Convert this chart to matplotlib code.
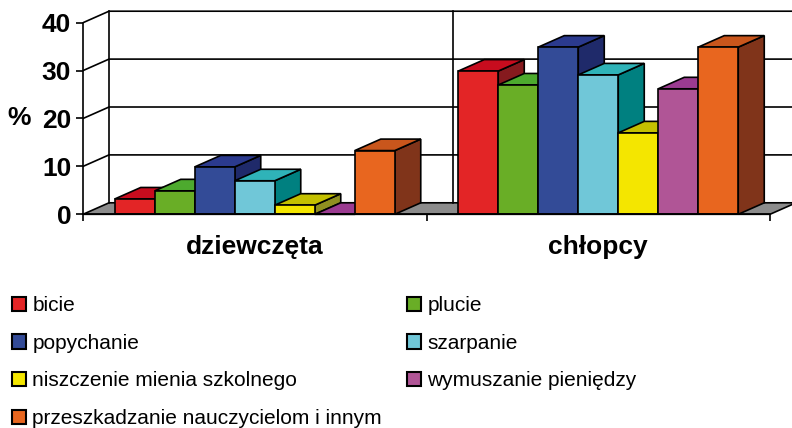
import matplotlib.pyplot as plt
from matplotlib.patches import Patch

plt.rcParams["font.family"] = ["Liberation Sans", "DejaVu Sans"]

groups = ["dziewczęta", "chłopcy"]
series = [
    "bicie",
    "plucie",
    "popychanie",
    "szarpanie",
    "niszczenie mienia szkolnego",
    "wymuszanie pieniędzy",
    "przeszkadzanie nauczycielom i innym",
]
girls = [3.2, 4.9, 9.9, 7.0, 1.9, 0.0, 13.3]
boys = [29.9, 27.0, 34.9, 29.1, 17.0, 26.2, 34.9]
yticks = [0, 10, 20, 30, 40]

# front / top / side shades for each series
front_colors = ["#E32526", "#69AE26", "#334B97", "#70C7D8", "#F4E600", "#B05596", "#E8661F"]
top_colors = ["#C70C1E", "#4DAA2E", "#2B3A8E", "#2FB3B8", "#C4C000", "#9B3B91", "#C9561C"]
side_colors = ["#861A1E", "#3A7A1E", "#1F2A6A", "#008080", "#8F8F20", "#6E2060", "#80341A"]

W, H = 792, 428
fig = plt.figure(figsize=(W / 100, H / 100), dpi=100)

# axes in pixel terms: x=0 at px 83, 343.5 px per category; y=0 at px 214.3, 4.79 px per unit
x0_px, y0_px = 83, 214.3
sx, sy = 343.5, 4.79
ybot = -3.0
ax = fig.add_axes([x0_px / W, 1 - (y0_px - ybot * sy) / H, (W - x0_px) / W, (y0_px - ybot * sy) / H])
ax.set_xlim(0, (W - x0_px) / sx)
ax.set_ylim(ybot, y0_px / sy)

dx, dy = 26 / sx, 2.4
lw = 1.2
ncat = len(groups)

# floor
ax.fill([0, ncat, ncat + dx, dx], [0, 0, dy, dy], facecolor="#8C8C8C", edgecolor="black", lw=lw, zorder=1)

# walls: gridlines on left wall and back wall
for v in yticks[1:]:
    ax.plot([0, dx, ncat + dx + 1], [v, v + dy, v + dy], color="black", lw=lw, zorder=1)
for xv in range(ncat + 1):
    ax.plot([xv + dx, xv + dx], [dy, yticks[-1] + dy], color="black", lw=lw, zorder=1)

nser = len(series)
bw = 40 / sx
gap = (1 - nser * bw) / 2
z = 2
for gi, vals in enumerate([girls, boys]):
    for si, h in enumerate(vals):
        xl = gi + gap + si * bw
        xr = xl + bw
        kw = dict(edgecolor="black", lw=lw, joinstyle="miter")
        ax.fill([xr, xr + dx, xr + dx, xr], [0, dy, h + dy, h], facecolor=side_colors[si], zorder=z, **kw)
        ax.fill([xl, xr, xr + dx, xl + dx], [h, h, h + dy, h + dy], facecolor=top_colors[si], zorder=z + 0.1, **kw)
        ax.fill([xl, xr, xr, xl], [0, 0, h, h], facecolor=front_colors[si], zorder=z + 0.2, **kw)
        z += 1

for s in ["top", "right"]:
    ax.spines[s].set_visible(False)
ax.spines["left"].set_bounds(0, yticks[-1])
ax.spines["bottom"].set_position(("data", 0))
ax.spines["bottom"].set_bounds(0, ncat)
ax.spines["left"].set_linewidth(lw)
ax.spines["bottom"].set_linewidth(lw)
ax.spines["bottom"].set_zorder(100)

ax.set_yticks(yticks)
ax.set_yticklabels([str(t) for t in yticks], fontweight="bold")
ax.tick_params(axis="y", direction="out", length=5, width=lw, labelsize=19, pad=3.5)

ax.set_xticks(range(ncat + 1))
ax.set_xticklabels([])
ax.tick_params(axis="x", which="major", direction="out", length=5, width=lw)
ax.set_xticks([i + 0.5 for i in range(ncat)], minor=True)
ax.set_xticklabels(groups, minor=True, fontweight="bold")
ax.tick_params(axis="x", which="minor", length=0, labelsize=19, pad=15)

fig.text(19 / W, 1 - 118 / H, "%", ha="center", va="center", fontsize=19, fontweight="bold")

handles = [Patch(facecolor=c, edgecolor="black", lw=1.5) for c in front_colors]
leg_kw = dict(frameon=False, fontsize=15, borderpad=0, borderaxespad=0,
              handlelength=0.68, handleheight=0.68, handletextpad=0.3, labelspacing=0.9,
              loc="upper left")
col1 = [0, 2, 4, 6]
col2 = [1, 3, 5]
fig.legend([handles[i] for i in col1], [series[i] for i in col1],
           bbox_to_anchor=(12 / W, 1 - 296 / H), **leg_kw)
fig.legend([handles[i] for i in col2], [series[i] for i in col2],
           bbox_to_anchor=(407 / W, 1 - 296 / H), **leg_kw)

fig.savefig("out.png", dpi=100)
